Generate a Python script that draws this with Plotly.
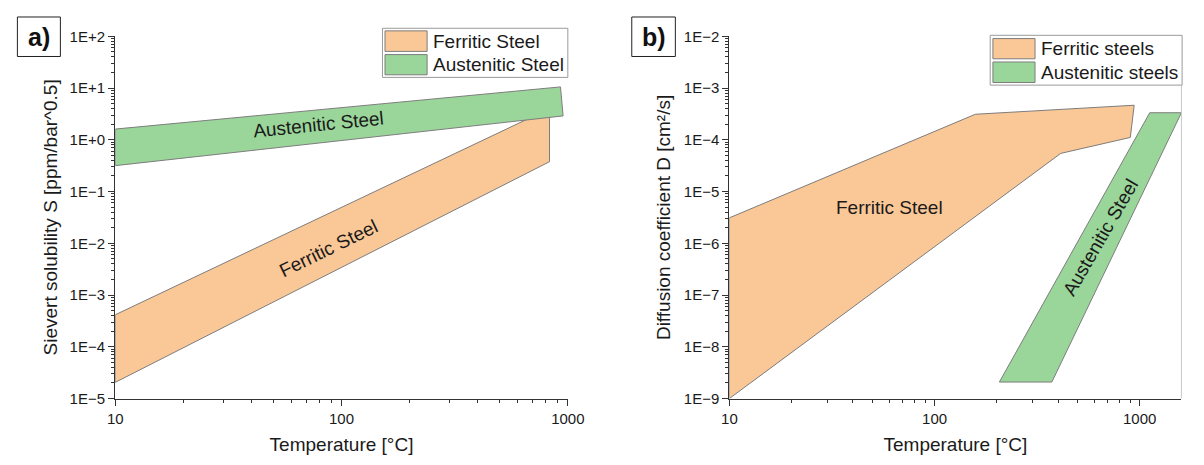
import math
import plotly.graph_objects as go

# ---------------- data ----------------
# Panel a) Sievert solubility S [ppm/bar^0.5] vs temperature [°C]
a_ferritic_T = [10, 830, 830, 10]
a_ferritic_S = [4.15e-4, 4.0, 0.377, 2.05e-5]
a_austenitic_T = [10, 928, 953, 10]
a_austenitic_S = [1.61, 10.5, 2.89, 0.316]

# Panel b) Diffusion coefficient D [cm²/s] vs temperature [°C]
b_ferritic_T = [10, 158, 940, 900, 412, 10]
b_ferritic_D = [3.1e-6, 3.11e-4, 4.65e-4, 1.11e-4, 5.45e-5, 1e-9]
b_austenitic_T = [207, 373, 1597, 1119]
b_austenitic_D = [2.08e-9, 2.08e-9, 3.33e-4, 3.33e-4]

x_tickvals = [10, 100, 1000]
x_ticktext = ["10", "100", "1000"]
a_y_tickvals = [1e-5, 1e-4, 1e-3, 1e-2, 1e-1, 1e0, 1e1, 1e2]
a_y_ticktext = ["1E\u22125", "1E\u22124", "1E\u22123", "1E\u22122", "1E\u22121", "1E+0", "1E+1", "1E+2"]
b_y_tickvals = [1e-9, 1e-8, 1e-7, 1e-6, 1e-5, 1e-4, 1e-3, 1e-2]
b_y_ticktext = ["1E\u22129", "1E\u22128", "1E\u22127", "1E\u22126", "1E\u22125", "1E\u22124", "1E\u22123", "1E\u22122"]

a_legend = ["Ferritic Steel", "Austenitic Steel"]
b_legend = ["Ferritic steels", "Austenitic steels"]

ORANGE = "rgb(250,199,151)"
GREEN = "rgb(154,213,154)"
EDGE = "rgb(125,125,125)"
FONT = "Arial, 'Liberation Sans', sans-serif"
TXT = "#1a1a1a"

W, H = 1204, 465
def px(x):
    return x / W
def py(y):
    return 1 - y / H

def minor_vals(lo, hi):
    vals = []
    for e in range(lo, hi):
        for k in range(2, 10):
            vals.append(k * 10 ** e)
    return vals

fig = go.Figure()

def poly(xs, ys, color, name, xa, ya):
    fig.add_trace(go.Scatter(
        x=xs + [xs[0]], y=ys + [ys[0]], mode="lines", fill="toself",
        fillcolor=color, line=dict(color=EDGE, width=1), name=name,
        xaxis=xa, yaxis=ya, showlegend=False, hoverinfo="skip"))

poly(a_ferritic_T, a_ferritic_S, ORANGE, a_legend[0], "x", "y")
poly(a_austenitic_T, a_austenitic_S, GREEN, a_legend[1], "x", "y")
poly(b_ferritic_T, b_ferritic_D, ORANGE, b_legend[0], "x2", "y2")
poly(b_austenitic_T, b_austenitic_D, GREEN, b_legend[1], "x2", "y2")

tickfont = dict(family=FONT, size=15, color=TXT)
titlefont = dict(family=FONT, size=19, color=TXT)

def xaxis(domain, rng, anchor):
    return dict(type="log", domain=domain, range=rng, anchor=anchor,
                showline=True, linecolor="#333", linewidth=1.3,
                ticks="outside", ticklen=6, tickwidth=1.2, tickcolor="#333",
                tickmode="array", tickvals=x_tickvals, ticktext=x_ticktext,
                tickfont=tickfont, showgrid=False, zeroline=False,
                minor=dict(tickmode="array", tickvals=minor_vals(1, 4),
                           ticks="outside", ticklen=3, tickwidth=1, tickcolor="#333", showgrid=False),
                title=dict(text="Temperature [°C]", font=titlefont, standoff=12))

def yaxis(domain, rng, anchor, vals, text, title, standoff):
    return dict(type="log", domain=domain, range=rng, anchor=anchor,
                showline=True, linecolor="#333", linewidth=1.3,
                ticks="outside", ticklen=6, tickwidth=1.2, tickcolor="#333",
                tickmode="array", tickvals=vals, ticktext=text,
                tickfont=tickfont, showgrid=False, zeroline=False,
                minor=dict(tickmode="array", tickvals=minor_vals(rng[0], rng[1]),
                           ticks="outside", ticklen=3, tickwidth=1, tickcolor="#333", showgrid=False),
                title=dict(text=title, font=titlefont, standoff=standoff))

ydom = [py(404.3), py(28.3)]
fig.update_layout(
    width=W, height=H, margin=dict(l=0, r=0, t=0, b=0), autosize=False,
    paper_bgcolor="white", plot_bgcolor="white", showlegend=False,
    font=dict(family=FONT, color=TXT),
    xaxis=xaxis([px(109.5), px(571.7)], [1, 3], "y"),
    yaxis=yaxis(ydom, [-5, 2], "x", a_y_tickvals, a_y_ticktext,
                "Sievert solubility S [ppm/bar^0.5]", 6),
    xaxis2=xaxis([px(736.7), px(1198.3)], [1, math.log10(1597)], "y2"),
    yaxis2=yaxis(ydom, [-9, -2], "x2", b_y_tickvals, b_y_ticktext,
                 "Diffusion coefficient D [cm²/s]", 8),
)

shapes = []
annotations = []

# right frame line of panel b
shapes.append(dict(type="line", xref="paper", yref="paper", x0=px(1198.3), x1=px(1198.3),
                   y0=py(404.3), y1=py(28.3), line=dict(color="#c8c8c8", width=1)))

# panel labels
for label, x0, x1 in [("a)", 9.6, 53.5), ("b)", 637, 681.5)]:
    shapes.append(dict(type="rect", xref="paper", yref="paper", x0=px(x0), x1=px(x1),
                       y0=py(49.3), y1=py(8.3), line=dict(color="#222", width=1)))
    annotations.append(dict(text="<b>%s</b>" % label, xref="paper", yref="paper",
                            x=px((x0 + x1) / 2), y=py(28.8), showarrow=False,
                            font=dict(family=FONT, size=25, color="#111"),
                            xanchor="center", yanchor="middle"))

# custom legends
def legend(box, sw_x, rows, labels, text_x):
    x0, x1, y0, y1 = box
    shapes.append(dict(type="rect", xref="paper", yref="paper", x0=px(x0), x1=px(x1),
                       y0=py(y1), y1=py(y0), line=dict(color="#9a9a9a", width=1),
                       fillcolor="white"))
    for (ry0, ry1), color, lab in zip(rows, [ORANGE, GREEN], labels):
        shapes.append(dict(type="rect", xref="paper", yref="paper", x0=px(sw_x[0]), x1=px(sw_x[1]),
                           y0=py(ry1), y1=py(ry0), line=dict(color=EDGE, width=1),
                           fillcolor=color))
        annotations.append(dict(text=lab, xref="paper", yref="paper", x=px(text_x),
                                y=py((ry0 + ry1) / 2), showarrow=False, xanchor="left",
                                yanchor="middle", font=dict(family=FONT, size=19, color=TXT)))

legend((382.4, 571.7, 20, 71), (385, 428), [(22.7, 44), (47.3, 68.3)], a_legend, 432)
legend((1003, 1199, 27.3, 79), (1005.8, 1048.8), [(30.7, 51.7), (55, 76.3)], b_legend, 1053)

# in-plot labels
inplot = dict(family=FONT, size=19, color=TXT)
annotations.append(dict(text="Austenitic Steel", xref="x", yref="y",
                        x=math.log10(79), y=math.log10(1.94), showarrow=False,
                        textangle=-5.7, font=inplot))
annotations.append(dict(text="Ferritic Steel", xref="x", yref="y",
                        x=math.log10(87.4), y=math.log10(8.07e-3), showarrow=False,
                        textangle=-26, font=inplot))
annotations.append(dict(text="Ferritic Steel", xref="x2", yref="y2",
                        x=math.log10(60.2), y=math.log10(4.93e-6), showarrow=False,
                        font=inplot))
annotations.append(dict(text="Austenitic Steel", xref="x2", yref="y2",
                        x=math.log10(643), y=math.log10(1.30e-6), showarrow=False,
                        textangle=-60, font=inplot))

fig.update_layout(shapes=shapes, annotations=annotations)
fig.write_html("out.html",
               config={"displayModeBar": False},
               post_script="document.body.style.margin='0';document.body.style.padding='0';")
